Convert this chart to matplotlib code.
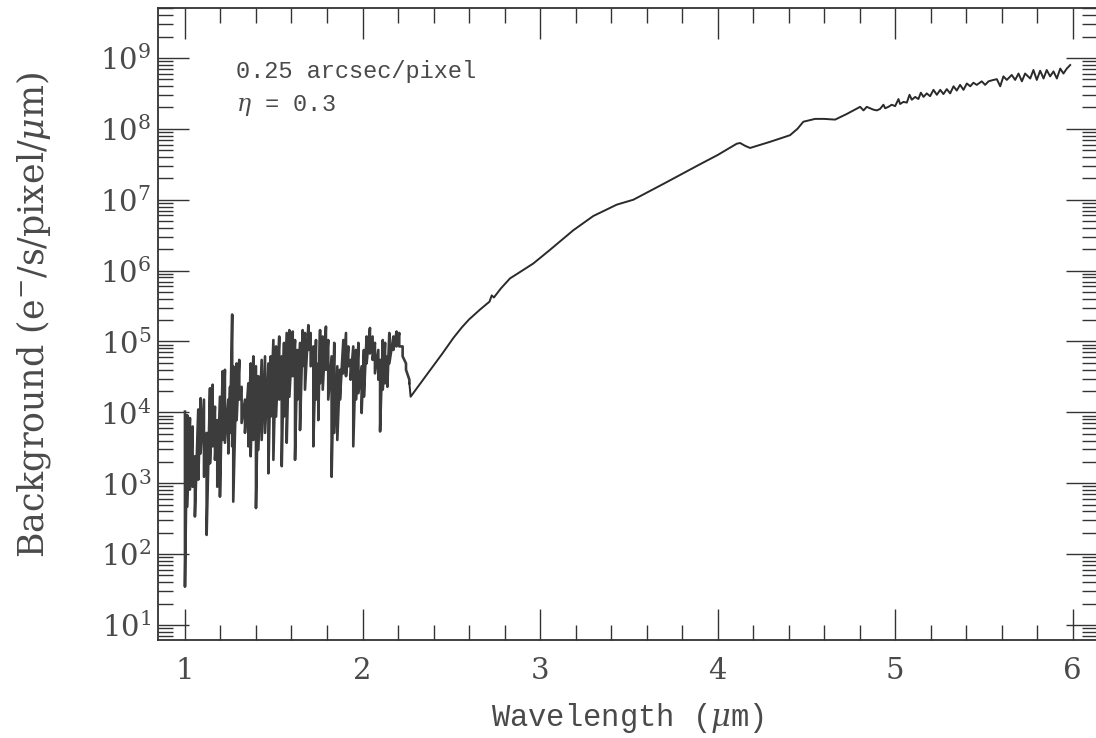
import numpy as np
import matplotlib
matplotlib.use('Agg')
import matplotlib.pyplot as plt
from matplotlib.ticker import MultipleLocator, LogLocator

plt.rcParams['font.family'] = ['DejaVu Serif']
plt.rcParams['mathtext.fontset'] = 'dejavuserif'

# near-IR part: dense OH / absorption forest, vertical spikes (top, bottom) in log10 units
wl_nir = [1.000, 1.013, 1.028, 1.043, 1.056, 1.075, 1.088, 1.107, 1.122, 1.141,
          1.156, 1.169, 1.182, 1.197, 1.212, 1.225, 1.244, 1.254, 1.266, 1.272,
          1.291, 1.306, 1.319, 1.338, 1.357, 1.370, 1.385, 1.400, 1.413, 1.432,
          1.451, 1.470, 1.483, 1.498, 1.513, 1.531, 1.545, 1.558, 1.573, 1.588,
          1.607, 1.620, 1.633, 1.648, 1.663, 1.676, 1.695, 1.708, 1.723, 1.738,
          1.751, 1.761, 1.776, 1.794, 1.807, 1.826, 1.841, 1.858, 1.873, 1.892,
          1.907, 1.920, 1.933, 1.948, 1.963, 1.977, 1.995, 2.008, 2.023, 2.042,
          2.057, 2.070, 2.089, 2.099, 2.114, 2.127, 2.140, 2.151, 2.174, 2.192,
          2.207, 2.226, 2.245, 2.264]
log_top = [4.01, 3.96, 3.92, 3.80, 3.38, 4.04, 4.20, 4.18, 3.71, 4.34,
           4.39, 4.08, 3.89, 4.22, 4.58, 4.60, 4.18, 4.36, 5.38, 4.65,
           4.69, 4.74, 4.36, 4.18, 4.41, 4.69, 4.79, 4.65, 4.51, 4.74,
           4.79, 4.69, 4.79, 5.02, 4.93, 5.07, 4.79, 4.98, 5.12, 5.16,
           5.14, 5.02, 4.88, 4.98, 5.16, 5.12, 5.23, 5.12, 4.93, 5.02,
           4.69, 5.16, 5.07, 5.21, 5.02, 4.79, 4.98, 4.65, 4.60, 5.02,
           5.12, 4.93, 4.74, 4.93, 4.88, 4.98, 4.65, 4.88, 5.07, 5.19,
           5.07, 4.98, 4.88, 4.74, 5.02, 4.98, 4.79, 5.12, 5.07, 5.14,
           5.12, 4.93, 4.69, 4.46]
log_bot = [1.54, 2.67, 2.91, 2.95, 2.53, 3.05, 3.42, 3.09, 2.27, 3.28,
           3.52, 3.33, 2.95, 2.81, 3.61, 3.57, 3.42, 3.71, 3.52, 2.74,
           3.89, 4.18, 3.85, 3.71, 3.52, 3.38, 3.61, 2.65, 3.47, 3.61,
           3.71, 3.14, 3.94, 3.33, 3.94, 4.18, 3.24, 3.94, 3.57, 4.22,
           4.51, 3.33, 4.18, 3.75, 4.65, 4.32, 4.88, 4.65, 3.52, 4.18,
           3.89, 4.41, 4.32, 4.60, 4.18, 3.09, 3.71, 3.61, 4.18, 4.55,
           4.51, 4.65, 4.46, 3.52, 4.18, 4.27, 3.99, 4.22, 4.69, 4.83,
           4.74, 4.55, 4.46, 3.73, 4.32, 4.41, 4.36, 4.69, 4.88, 4.93,
           4.93, 4.79, 4.60, 4.41]

# thermal part: smooth rise
wl_ir = [2.271, 2.35, 2.45, 2.512, 2.56, 2.60, 2.662, 2.70, 2.715, 2.728,
         2.74, 2.78, 2.831, 2.90, 2.962, 3.05, 3.188, 3.30, 3.432, 3.526,
         3.70, 3.901, 4.00, 4.108, 4.127, 4.155, 4.183, 4.30, 4.408, 4.45,
         4.483, 4.549, 4.60, 4.662, 4.728]
log_ir = [4.22, 4.49, 4.83, 5.05, 5.20, 5.31, 5.45, 5.53, 5.56, 5.65,
          5.62, 5.75, 5.89, 6.00, 6.10, 6.28, 6.57, 6.77, 6.93, 7.00,
          7.23, 7.50, 7.63, 7.79, 7.80, 7.76, 7.73, 7.82, 7.91, 8.00,
          8.10, 8.14, 8.14, 8.13, 8.21]

# long-wavelength end with wiggles
wl_lw = [4.803, 4.822, 4.840, 4.859, 4.878, 4.897, 4.915, 4.934, 4.944, 4.962,
         4.981, 5.000, 5.019, 5.028, 5.047, 5.066, 5.081, 5.094, 5.113, 5.131,
         5.145, 5.160, 5.178, 5.197, 5.216, 5.235, 5.254, 5.272, 5.291, 5.310,
         5.329, 5.347, 5.366, 5.385, 5.404, 5.423, 5.441, 5.460, 5.488, 5.507,
         5.526, 5.554, 5.573, 5.592, 5.610, 5.629, 5.657, 5.676, 5.695, 5.714,
         5.732, 5.761, 5.779, 5.798, 5.817, 5.836, 5.854, 5.873, 5.892, 5.911,
         5.930, 5.948, 5.967, 5.986]
log_lw = [8.31, 8.26, 8.31, 8.29, 8.27, 8.26, 8.28, 8.34, 8.29, 8.31,
          8.34, 8.32, 8.42, 8.35, 8.38, 8.37, 8.48, 8.41, 8.45, 8.42,
          8.51, 8.45, 8.50, 8.46, 8.55, 8.48, 8.55, 8.49, 8.56, 8.50,
          8.60, 8.54, 8.62, 8.55, 8.64, 8.60, 8.65, 8.62, 8.67, 8.62,
          8.67, 8.69, 8.70, 8.60, 8.74, 8.69, 8.76, 8.69, 8.78, 8.67,
          8.78, 8.71, 8.83, 8.69, 8.82, 8.71, 8.83, 8.74, 8.81, 8.71,
          8.85, 8.78, 8.85, 8.90]

# interleave spike tops/bottoms
wl_spk = np.repeat(wl_nir, 2)
log_spk = np.column_stack([log_top, log_bot]).ravel()
# smooth part starts where the spikes end so the curve stays joined
wl_smooth = np.concatenate([wl_spk[-1:], wl_ir, wl_lw])
log_smooth = np.concatenate([log_spk[-1:], log_ir, log_lw])

txt = '#4a4a4a'
fig = plt.figure(figsize=(10.96, 7.38), dpi=100)
ax = fig.add_axes([0.1444, 0.1328, 0.8565, 0.8564])

ax.plot(wl_spk, 10.0 ** log_spk, color='#3c3c3c', lw=1.9)
ax.plot(wl_smooth, 10.0 ** log_smooth, color='#2a2a2a', lw=1.4)

ax.set_yscale('log')
ax.set_xlim(0.8496, 6.137)
ax.set_ylim(10 ** 0.788, 10 ** 9.705)

ax.xaxis.set_major_locator(MultipleLocator(1))
ax.xaxis.set_minor_locator(MultipleLocator(0.2))
ax.yaxis.set_major_locator(LogLocator(base=10, numticks=20))
ax.yaxis.set_minor_locator(LogLocator(base=10, subs=np.arange(2, 10), numticks=20))

ax.tick_params(which='both', direction='in', top=True, right=True, colors='#333333', width=1.0)
ax.tick_params(which='major', length=22.5, labelsize=21, labelcolor=txt)
ax.tick_params(which='minor', length=10.8)
ax.tick_params(axis='x', which='major', pad=12)
ax.tick_params(axis='y', which='major', pad=5)
for s in ax.spines.values():
    s.set_color('#333333')
    s.set_linewidth(1.3)

ax.set_xlabel(r'Wavelength ($\mu$m)', fontsize=22, color=txt,
              family='Liberation Mono', labelpad=12)
ax.set_ylabel(r'Background (e$^{-}$/s/pixel/$\mu$m)', fontsize=25, color=txt)
ax.yaxis.set_label_coords(-0.112, 0.514)

ax.text(0.083, 0.899, '0.25 arcsec/pixel', transform=ax.transAxes, fontsize=17,
        color=txt, family='Liberation Mono', va='center')
ax.text(0.083, 0.846, r'$\eta$ = 0.3', transform=ax.transAxes, fontsize=17,
        color=txt, family='Liberation Mono', va='center')

fig.savefig('out.png', dpi=100)
